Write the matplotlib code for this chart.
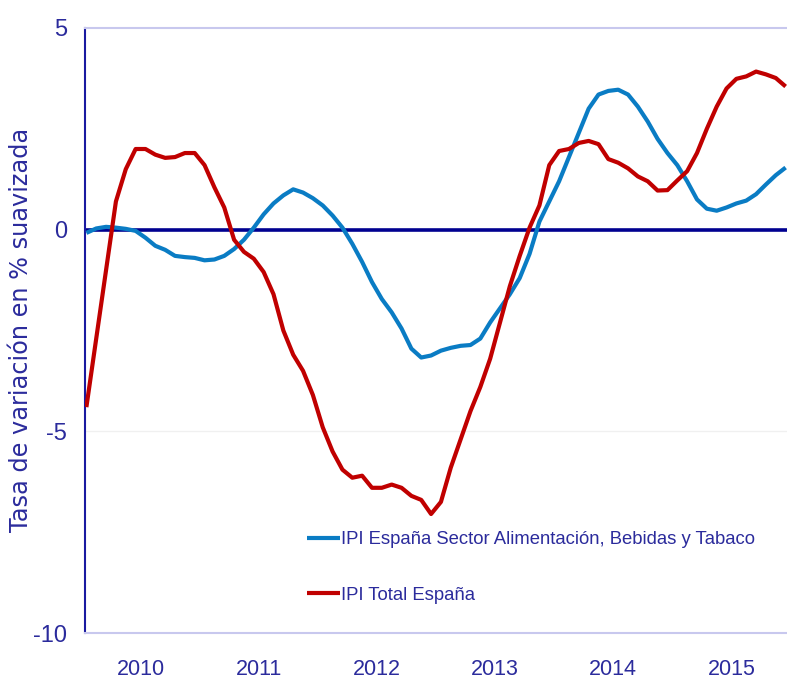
import numpy as np
import matplotlib
matplotlib.use("Agg")
import matplotlib.pyplot as plt

# monthly series, Jan 2010 .. Dec 2015
start_year = 2010
n_months = 72
year_labels = ["2010", "2011", "2012", "2013", "2014", "2015"]

ipi_alimentacion = [
    -0.08, 0.03, 0.07, 0.05, 0.02, -0.03, -0.20, -0.40, -0.50, -0.65, -0.68, -0.70,
    -0.76, -0.74, -0.65, -0.48, -0.25, 0.05, 0.38, 0.65, 0.85, 1.00, 0.92, 0.78,
    0.60, 0.35, 0.05, -0.35, -0.80, -1.30, -1.72, -2.05, -2.45, -2.95, -3.17, -3.12,
    -3.00, -2.93, -2.88, -2.86, -2.70, -2.30, -1.95, -1.60, -1.20, -0.60, 0.20, 0.70,
    1.20, 1.80, 2.40, 3.00, 3.35, 3.44, 3.47, 3.35, 3.05, 2.68, 2.25, 1.90,
    1.60, 1.20, 0.75, 0.52, 0.47, 0.55, 0.65, 0.72, 0.88, 1.12, 1.35, 1.54,
]
ipi_total = [
    -4.40, -2.70, -1.00, 0.70, 1.50, 2.00, 2.00, 1.86, 1.78, 1.80, 1.90, 1.90,
    1.60, 1.05, 0.55, -0.25, -0.55, -0.72, -1.05, -1.60, -2.50, -3.10, -3.50, -4.10,
    -4.90, -5.50, -5.95, -6.15, -6.10, -6.40, -6.40, -6.32, -6.40, -6.60, -6.70, -7.05,
    -6.75, -5.90, -5.20, -4.50, -3.90, -3.20, -2.30, -1.40, -0.65, 0.05, 0.60, 1.60,
    1.95, 2.00, 2.15, 2.20, 2.12, 1.75, 1.66, 1.52, 1.32, 1.20, 0.97, 0.98,
    1.22, 1.45, 1.90, 2.50, 3.05, 3.50, 3.74, 3.80, 3.92, 3.85, 3.76, 3.55,
]

x = start_year + (np.arange(n_months) + 0.5) / 12.0

txt_color = "#2b2b9c"
sans = ["Liberation Sans", "DejaVu Sans"]

fig = plt.figure(figsize=(7.87, 6.82), dpi=100)
ax = fig.add_axes([85 / 787, 1 - 633 / 682, 1 - 85 / 787, (633 - 28) / 682])

ax.axhline(-5, color="#f0f0f0", lw=1, zorder=0)
ax.axhline(0, color="#000090", lw=2.6, zorder=1)

ax.plot(x, ipi_alimentacion, color="#0a7cc4", lw=3.0, solid_capstyle="butt",
        label="IPI España Sector Alimentación, Bebidas y Tabaco", zorder=3)
ax.plot(x, ipi_total, color="#c00000", lw=3.0, solid_capstyle="butt",
        label="IPI Total España", zorder=3)

ax.set_xlim(2010.03, 2015.97)
ax.set_ylim(-10, 5)
ax.set_yticks([5, 0, -5, -10])
ax.set_yticklabels(["5", "0", "-5", "-10"], family=sans, fontsize=17, color=txt_color)
ax.set_xticks([start_year + i + 0.5 for i in range(len(year_labels))])
ax.set_xticklabels(year_labels, family=sans, fontsize=15.5, color=txt_color)
ax.tick_params(axis="y", length=0, pad=13)
ax.tick_params(axis="x", length=0, pad=19)

for side in ["top", "bottom"]:
    ax.spines[side].set_color("#c8c8ee")
    ax.spines[side].set_linewidth(1.5)
ax.spines["right"].set_visible(False)
ax.spines["left"].set_color("#1a1aa0")
ax.spines["left"].set_linewidth(1.5)

fig.text(21 / 787, 1 - 330 / 682, "Tasa de variación en % suavizada", rotation=90,
         ha="center", va="center", fontsize=17.3, color=txt_color, family="DejaVu Sans")

leg = ax.legend(loc="upper left", bbox_to_anchor=((307 - 85) / 702, (633 - 531) / 605),
                frameon=False, borderpad=0, borderaxespad=0, handlelength=1.8,
                handletextpad=0.05, labelspacing=2.1,
                prop={"family": sans, "size": 13.3})
for t in leg.get_texts():
    t.set_color(txt_color)

fig.savefig("out.png", dpi=100)
